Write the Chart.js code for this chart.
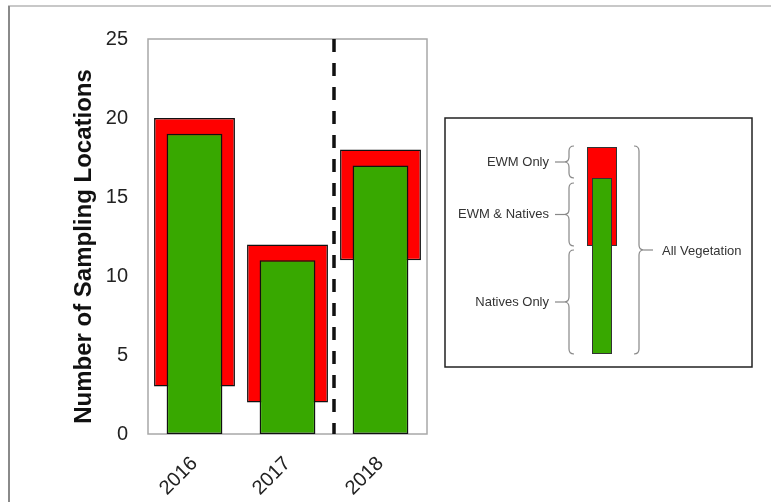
<!DOCTYPE html>
<html>
<head>
<meta charset="utf-8">
<script src="https://cdn.jsdelivr.net/npm/chart.js@4/dist/chart.umd.min.js"></script>
<style>
  body { margin: 0; background: #fff; }
  #wrap { position: relative; width: 771px; height: 502px; }
</style>
</head>
<body>
<div id="wrap"><canvas id="chart" width="771" height="502"></canvas></div>
<script>
// data
const years = ['2016', '2017', '2018'];
const nativesTop = [19, 11, 17];      // green bars (sites with natives)
const ewmBottom = [3, 2, 11];         // red bars start (natives only below this)
const ewmTop = [20, 12, 18];          // red bars end (all vegetation)
const yTicks = [0, 5, 10, 15, 20, 25];
const dividerAfter = '2017';          // dashed line goes after this year

const legendLabels = ['EWM Only', 'EWM & Natives', 'Natives Only'];
const legendTotal = 'All Vegetation';

const RED = '#ff0000';
const GREEN = '#38a800';

// box round the plot + dashed separator
const plotExtras = {
  id: 'plotExtras',
  beforeDatasetsDraw(chart) {
    const { ctx, chartArea: a } = chart;
    ctx.save();
    ctx.strokeStyle = '#a8a8a8';
    ctx.lineWidth = 1.5;
    ctx.strokeRect(a.left, a.top, a.right - a.left, a.bottom - a.top);
    ctx.restore();
  },
  afterDatasetsDraw(chart) {
    const { ctx, chartArea: a } = chart;
    const x = chart.scales.x;
    const i = years.indexOf(dividerAfter);
    const px = (x.getPixelForValue(i) + x.getPixelForValue(i + 1)) / 2;
    ctx.save();
    ctx.strokeStyle = '#111';
    ctx.lineWidth = 3.5;
    ctx.setLineDash([13, 11]);
    ctx.beginPath();
    ctx.moveTo(px, a.top);
    ctx.lineTo(px, a.bottom);
    ctx.stroke();
    ctx.restore();
  }
};

function brace(ctx, x, y1, y2, dir) {
  // dir = 1 -> "{" , dir = -1 -> "}"
  const ym = (y1 + y2) / 2;
  const w = 5 * dir;
  ctx.beginPath();
  ctx.moveTo(x + w, y1);
  ctx.quadraticCurveTo(x, y1, x, y1 + 5);
  ctx.lineTo(x, ym - 5);
  ctx.quadraticCurveTo(x, ym, x - w, ym);
  ctx.quadraticCurveTo(x, ym, x, ym + 5);
  ctx.lineTo(x, y2 - 5);
  ctx.quadraticCurveTo(x, y2, x + w, y2);
  ctx.stroke();
  ctx.beginPath();
  ctx.moveTo(x - w, ym);
  ctx.lineTo(x - w - 9 * dir, ym);
  ctx.stroke();
}

const legendBox = {
  id: 'legendBox',
  beforeDraw(chart) {
    const { ctx } = chart;
    ctx.save();
    ctx.lineWidth = 2;
    ctx.strokeStyle = '#c8c8c8';
    ctx.beginPath();
    ctx.moveTo(8, 6); ctx.lineTo(771, 6);
    ctx.stroke();
    ctx.strokeStyle = '#8a8a8a';
    ctx.beginPath();
    ctx.moveTo(9, 6); ctx.lineTo(9, 502);
    ctx.stroke();
    ctx.restore();
  },
  afterDraw(chart) {
    const { ctx } = chart;
    ctx.save();
    ctx.strokeStyle = '#222';
    ctx.lineWidth = 1.5;
    ctx.strokeRect(445, 118, 307, 249);

    ctx.lineWidth = 1;
    ctx.fillStyle = RED;
    ctx.fillRect(587, 147, 30, 99);
    ctx.strokeStyle = '#333';
    ctx.strokeRect(587.5, 147.5, 29, 98);
    ctx.fillStyle = GREEN;
    ctx.fillRect(592, 178, 20, 176);
    ctx.strokeRect(592.5, 178.5, 19, 175);

    ctx.strokeStyle = '#888';
    ctx.lineWidth = 1.2;
    brace(ctx, 569, 146, 178, 1);
    brace(ctx, 569, 183, 246, 1);
    brace(ctx, 569, 250, 354, 1);
    brace(ctx, 639, 146, 354, -1);

    ctx.fillStyle = '#333';
    ctx.font = '13px "Liberation Sans", Arial, sans-serif';
    ctx.textBaseline = 'middle';
    ctx.textAlign = 'right';
    ctx.fillText(legendLabels[0], 549, 162);
    ctx.fillText(legendLabels[1], 549, 214);
    ctx.fillText(legendLabels[2], 549, 302);
    ctx.textAlign = 'left';
    ctx.fillText(legendTotal, 662, 251);
    ctx.restore();
  }
};

new Chart(document.getElementById('chart'), {
  type: 'bar',
  data: {
    labels: years,
    datasets: [
      {
        label: 'Natives',
        data: nativesTop,
        backgroundColor: GREEN,
        borderColor: '#111',
        borderWidth: 1.5,
        borderSkipped: false,
        barPercentage: 0.6,
        categoryPercentage: 1,
        grouped: false,
        order: 1
      },
      {
        label: 'EWM',
        data: ewmBottom.map((v, i) => [v, ewmTop[i]]),
        backgroundColor: RED,
        borderColor: '#111',
        borderWidth: 1.5,
        borderSkipped: false,
        barPercentage: 0.87,
        categoryPercentage: 1,
        grouped: false,
        order: 2
      }
    ]
  },
  options: {
    responsive: false,
    animation: false,
    layout: { padding: { left: 0, top: 39, right: 344, bottom: 0 } },
    plugins: { legend: { display: false }, tooltip: { enabled: false } },
    scales: {
      x: {
        grid: { display: false },
        border: { display: false },
        ticks: {
          minRotation: 45,
          maxRotation: 45,
          padding: 10,
          color: '#222',
          font: { family: '"Liberation Sans", Arial, sans-serif', size: 20 }
        },
        afterFit(s) { s.height = 68; }
      },
      y: {
        min: 0,
        max: 25,
        grid: { display: false, drawTicks: false },
        border: { display: false },
        afterBuildTicks(s) { s.ticks = yTicks.map(v => ({ value: v })); },
        ticks: {
          padding: 20,
          color: '#222',
          font: { family: '"Liberation Sans", Arial, sans-serif', size: 20 }
        },
        title: {
          display: true,
          // trailing spaces nudge the rotated title down a bit, like the original
          text: 'Number of Sampling Locations   ',
          color: '#111',
          padding: { top: 70, bottom: 0 },
          font: { family: '"Liberation Sans", Arial, sans-serif', size: 24, weight: 'bold' }
        },
        afterFit(s) { s.width = 148; }
      }
    }
  },
  plugins: [plotExtras, legendBox]
});
</script>
</body>
</html>
